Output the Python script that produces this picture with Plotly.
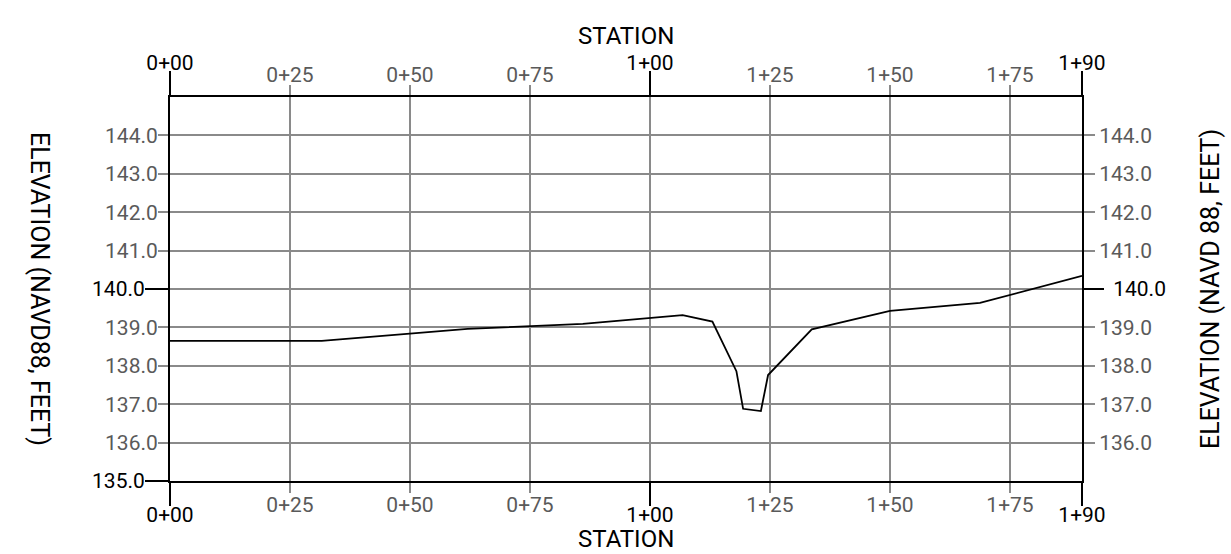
import plotly.graph_objects as go

# ---- data ----
station = [0, 31.6, 62, 86, 106.8, 113, 118, 119.4, 123.1, 124.6, 133.7, 150, 168.75, 190]
elevation = [138.65, 138.65, 138.96, 139.09, 139.32, 139.15, 137.86, 136.88, 136.82, 137.76, 138.95, 139.43, 139.64, 140.34]

minor_x_vals = [25, 50, 75, 100, 125, 150, 175]
minor_x_text = ["0+25", "0+50", "0+75", "", "1+25", "1+50", "1+75"]
major_x_vals = [0, 100, 190]
major_x_text = ["0+00", "1+00", "1+90"]

minor_y_vals = [136, 137, 138, 139, 140, 141, 142, 143, 144]
minor_y_text = ["136.0", "137.0", "138.0", "139.0", "", "141.0", "142.0", "143.0", "144.0"]
major_y_left_vals = [135, 140]
major_y_left_text = ["135.0", "140.0"]
major_y_right_vals = [140]
major_y_right_text = ["140.0"]

x_range = [0, 190]
y_range = [135, 145]

FONT = "Roboto"
GRAY = "#8a8a8a"
LABEL_GRAY = "#5a5a5a"

fig = go.Figure()
# invisible helper traces so the overlaid axes get drawn
for xa, ya in [("x2", "y2"), ("x3", "y3"), ("x4", "y4")]:
    fig.add_trace(go.Scatter(x=station, y=elevation, xaxis=xa, yaxis=ya, mode="lines",
                             line=dict(color="rgba(0,0,0,0)", width=0),
                             hoverinfo="skip", showlegend=False))
fig.add_trace(go.Scatter(x=station, y=elevation, mode="lines",
                         line=dict(color="black", width=1.8),
                         hoverinfo="skip", showlegend=False))

minor_font = dict(family=FONT, size=21, color=LABEL_GRAY)
major_font = dict(family=FONT, size=21, color="black")

fig.update_layout(
    width=1231, height=554,
    margin=dict(l=170, r=149, t=97, b=73),
    paper_bgcolor="white", plot_bgcolor="white",
    showlegend=False,
    xaxis=dict(range=x_range, tickmode="array", tickvals=minor_x_vals, ticktext=minor_x_text,
               showgrid=True, gridcolor=GRAY, gridwidth=1.6, zeroline=False,
               ticks="outside", ticklen=10, tickcolor=GRAY, tickwidth=1.6,
               tickfont=minor_font, ticklabelstandoff=-6,
               showline=True, linecolor="black", linewidth=2,
               side="bottom", anchor="y"),
    xaxis2=dict(range=x_range, tickmode="array", tickvals=minor_x_vals, ticktext=minor_x_text,
                overlaying="x", side="top", anchor="y", showgrid=False, zeroline=False,
                ticks="outside", ticklen=10, tickcolor=GRAY, tickwidth=1.6,
                tickfont=minor_font, ticklabelstandoff=-5,
                showline=True, linecolor="black", linewidth=2),
    xaxis3=dict(range=x_range, tickmode="array", tickvals=major_x_vals, ticktext=major_x_text,
                overlaying="x", side="bottom", anchor="y", showgrid=False, zeroline=False,
                ticks="outside", ticklen=24, tickcolor="black", tickwidth=2,
                tickfont=major_font, ticklabelstandoff=-9, showline=False),
    xaxis4=dict(range=x_range, tickmode="array", tickvals=major_x_vals, ticktext=major_x_text,
                overlaying="x", side="top", anchor="y", showgrid=False, zeroline=False,
                ticks="outside", ticklen=25, tickcolor="black", tickwidth=2,
                tickfont=major_font, ticklabelstandoff=-7, showline=False),
    yaxis=dict(range=y_range, tickmode="array", tickvals=minor_y_vals, ticktext=minor_y_text,
               showgrid=True, gridcolor=GRAY, gridwidth=1.6, zeroline=False,
               ticks="outside", ticklen=10, tickcolor=GRAY, tickwidth=1.6,
               tickfont=minor_font, ticklabelstandoff=-4,
               showline=True, linecolor="black", linewidth=2,
               side="left", anchor="x"),
    yaxis2=dict(range=y_range, tickmode="array", tickvals=minor_y_vals, ticktext=minor_y_text,
                overlaying="y", side="right", anchor="x", showgrid=False, zeroline=False,
                ticks="outside", ticklen=11, tickcolor=GRAY, tickwidth=1.6,
                tickfont=minor_font, showline=True, linecolor="black", linewidth=2),
    yaxis3=dict(range=y_range, tickmode="array", tickvals=major_y_left_vals, ticktext=major_y_left_text,
                overlaying="y", side="left", anchor="x", showgrid=False, zeroline=False,
                ticks="outside", ticklen=24, tickcolor="black", tickwidth=2,
                tickfont=major_font, ticklabelstandoff=-4, showline=False),
    yaxis4=dict(range=y_range, tickmode="array", tickvals=major_y_right_vals, ticktext=major_y_right_text,
                overlaying="y", side="right", anchor="x", showgrid=False, zeroline=False,
                ticks="outside", ticklen=21, tickcolor="black", tickwidth=2,
                tickfont=major_font, ticklabelstandoff=5, showline=False),
)

title_font = dict(family=FONT, size=24, color="black")
fig.add_annotation(text="STATION", xref="paper", yref="paper", x=0.5, y=1.158,
                   showarrow=False, font=title_font, xanchor="center", yanchor="middle",
                   borderpad=0)
fig.add_annotation(text="STATION", xref="paper", yref="paper", x=0.5, y=-0.1505,
                   showarrow=False, font=title_font, xanchor="center", yanchor="middle",
                   borderpad=0)
fig.add_annotation(text="ELEVATION (NAVD88, FEET)", xref="paper", yref="paper",
                   x=-0.1425, y=0.5, textangle=90, showarrow=False,
                   font=dict(family=FONT, size=25, color="black"),
                   xanchor="center", yanchor="middle")
fig.add_annotation(text="ELEVATION (NAVD 88, FEET)", xref="paper", yref="paper",
                   x=1.1404, y=0.5, textangle=-90, showarrow=False,
                   font=dict(family=FONT, size=25, color="black"),
                   xanchor="center", yanchor="middle")

fig.write_html("out.html", config={"displayModeBar": False},
               post_script="document.body.style.margin='0';")
